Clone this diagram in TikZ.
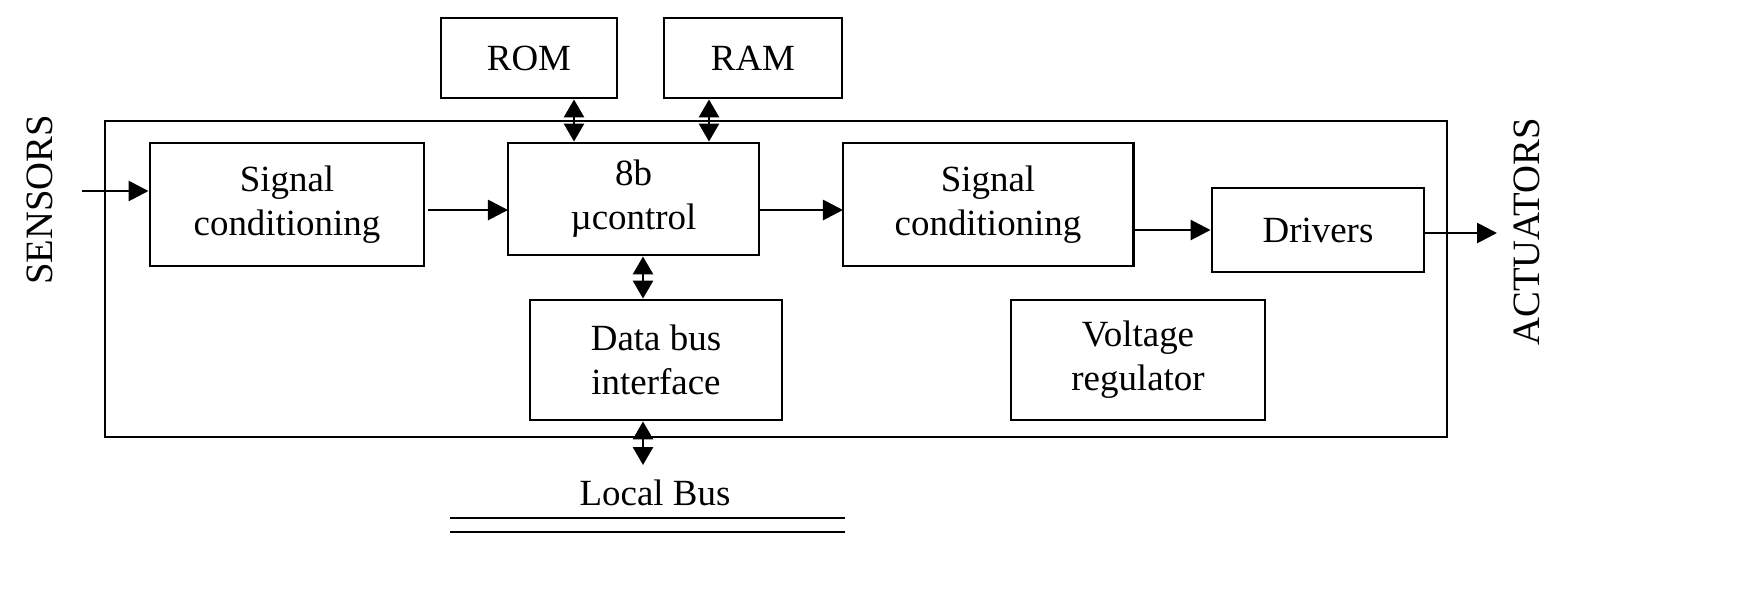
\documentclass[tikz,border=0pt]{standalone}
\usepackage{fontspec}
\setmainfont{Liberation Serif}
\usetikzlibrary{arrows.meta}
\tikzset{
  blk/.style={draw, thick, inner sep=0pt, align=center, font=\fontsize{10.5}{12.5}\selectfont},
  sig/.style={thick, -{Triangle[length=2mm, width=2mm]}},
  bid/.style={thick, {Triangle[length=1.8mm, width=2mm]}-{Triangle[length=1.8mm, width=2mm]}}
}
\begin{document}
\begin{tikzpicture}[x=0.01cm, y=-0.01cm]
    \useasboundingbox (0,0) rectangle (1754,602);
    \draw[thick] (105,121) rectangle (1447,437);
    \node[blk, minimum width=1.76cm, minimum height=0.8cm] (rom) at (529,58) {ROM};
    \node[blk, minimum width=1.78cm, minimum height=0.8cm] (ram) at (753,58) {RAM};
    \node[blk, minimum width=2.74cm, minimum height=1.23cm] (sc1) at (287,204.5) {Signal\\conditioning};
    \node[blk, minimum width=2.51cm, minimum height=1.12cm] (mc) at (633.5,199) {8b\\µcontrol};
    \node[blk, minimum width=2.9cm, minimum height=1.23cm] (sc2) at (988,204.5) {Signal\\conditioning};
    \node[blk, minimum width=2.12cm, minimum height=0.84cm] (drv) at (1318,230) {Drivers};
    \node[blk, minimum width=2.52cm, minimum height=1.2cm] (dbi) at (656,360) {Data bus\\interface};
    \node[blk, minimum width=2.54cm, minimum height=1.2cm] (vr) at (1138,360) {Voltage\\regulator};
    \node[rotate=90, font=\fontsize{11}{12}\selectfont] (sens) at (40,200) {SENSORS};
    \node[rotate=90, font=\fontsize{11}{12}\selectfont] (act) at (1527,232) {ACTUATORS};
    \node[font=\fontsize{10.5}{12}\selectfont] (lbus) at (655,493) {Local Bus};
    \coordinate (sin) at (82,191);
    \coordinate (aout) at (1497,233);
    \coordinate (bus) at (643,465);
    \draw[sig] (sin) -- (sin -| sc1.west);
    \draw[sig] (428,210) -- (508,210);
    \draw[sig] (759,210) -- (843,210);
    \draw[sig] (1133,230) -- (drv.west);
    \draw[sig] (drv.east |- aout) -- (aout);
    \draw[bid] (rom.south -| 574,0) -- (mc.north -| 574,0);
    \draw[bid] (ram.south -| 709,0) -- (mc.north -| 709,0);
    \draw[bid] (mc.south -| 643,0) -- (dbi.north -| 643,0);
    \draw[bid] (dbi.south -| 643,0) -- (bus);
    \draw[thick] (450,518) -- (845,518);
    \draw[thick] (450,532) -- (845,532);
\end{tikzpicture}
\end{document}
